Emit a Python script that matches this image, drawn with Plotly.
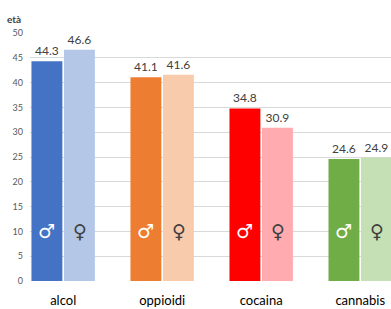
import plotly.graph_objects as go

categories = ["alcol", "oppioidi", "cocaina", "cannabis"]
male_values = [44.3, 41.1, 34.8, 24.6]
female_values = [46.6, 41.6, 30.9, 24.9]
male_colors = ["#4472C4", "#ED7D31", "#FF0000", "#70AD47"]
female_colors = ["#B4C7E7", "#F8CBAD", "#FFABB0", "#C5E0B4"]
y_ticks = [0, 5, 10, 15, 20, 25, 30, 35, 40, 45, 50]

x = list(range(len(categories)))
FONT = "Lato, 'Open Sans', sans-serif"

fig = go.Figure()
fig.add_trace(go.Bar(
    x=x, y=male_values, name="maschi",
    marker=dict(color=male_colors, line=dict(width=0)),
    text=[f"{v:.1f}" for v in male_values], textposition="outside",
    textfont=dict(size=12, color="#404040", family=FONT), cliponaxis=False,
))
fig.add_trace(go.Bar(
    x=x, y=female_values, name="femmine",
    marker=dict(color=female_colors, line=dict(width=0)),
    text=[f"{v:.1f}" for v in female_values], textposition="outside",
    textfont=dict(size=12, color="#404040", family=FONT), cliponaxis=False,
))

off = 0.168
for i in x:
    fig.add_annotation(x=i - off, y=10, text="♂", showarrow=False,
                       font=dict(size=19, color="white", family="DejaVu Sans"))
    fig.add_annotation(x=i + off, y=10, text="♀", showarrow=False,
                       font=dict(size=19, color="#404040", family="DejaVu Sans"))

fig.add_annotation(xref="paper", yref="paper", x=-0.045, y=1.056, text="<b>età</b>",
                   showarrow=False, xanchor="center", yanchor="middle",
                   font=dict(size=10, color="#404040", family=FONT))

fig.update_layout(
    width=391, height=309,
    margin=dict(l=30, r=0, t=33, b=28),
    paper_bgcolor="white", plot_bgcolor="white",
    barmode="group", bargap=0.343, bargroupgap=0.05,
    showlegend=False,
    font=dict(family=FONT),
    xaxis=dict(range=[-0.335, 3.311], tickmode="array", tickvals=x, ticktext=categories,
               tickfont=dict(size=13, color="#000000"), showgrid=False, zeroline=False,
               showline=False, ticks="", ticklabelstandoff=10),
    yaxis=dict(range=[0, 50], tickvals=y_ticks, tickfont=dict(size=9, color="#595959"),
               gridcolor="#D9D9D9", gridwidth=1, zeroline=False, showline=False,
               ticks="", ticklabelstandoff=6),
)

fig.write_html("out.html", config={"displayModeBar": False},
               post_script="document.body.style.margin='0';")
